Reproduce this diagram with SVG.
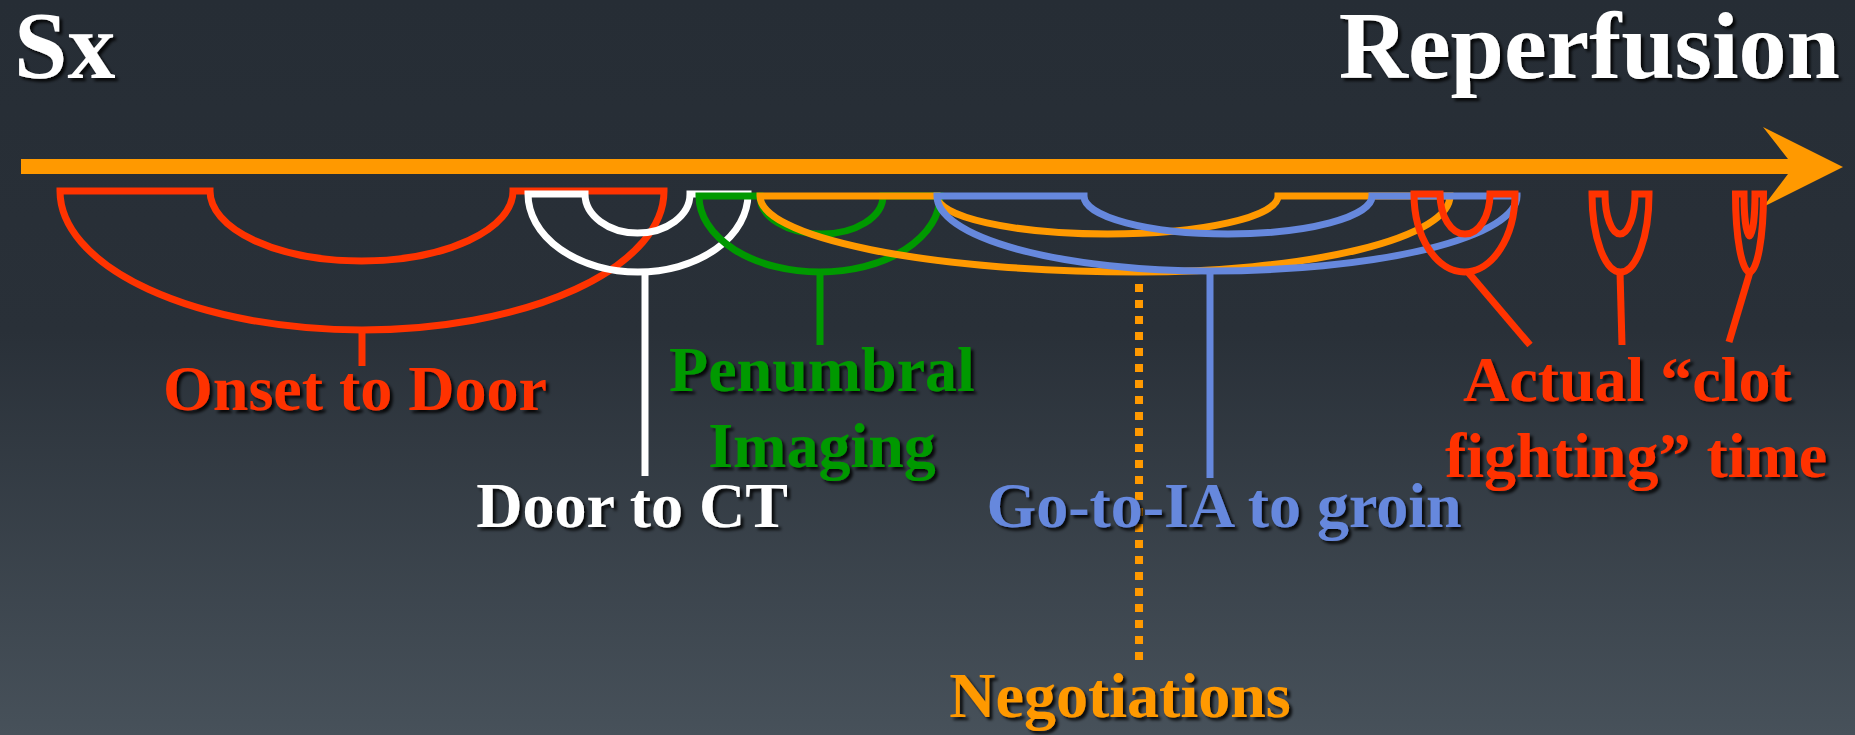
<svg xmlns="http://www.w3.org/2000/svg" width="1855" height="735" viewBox="0 0 1855 735">
  <defs>
    <linearGradient id="bg" x1="0" y1="0" x2="0" y2="1">
      <stop offset="0" stop-color="#262d35"/>
      <stop offset="0.45" stop-color="#293038"/>
      <stop offset="1" stop-color="#47515a"/>
    </linearGradient>
    <filter id="sh" x="-10%" y="-20%" width="130%" height="150%">
      <feDropShadow dx="3" dy="3" stdDeviation="1.5" flood-color="#000" flood-opacity="0.85"/>
    </filter>
  </defs>
  <style>
    .br { fill: none; stroke-width: 7; stroke-linejoin: miter; }
    .lbl { font-family: "Liberation Serif", "Times New Roman", serif; font-weight: bold; font-size: 64px; filter: url(#sh); }
    .ttl { font-family: "Liberation Serif", "Times New Roman", serif; font-weight: bold; font-size: 96px; fill: #ffffff; filter: url(#sh); }
    .red { stroke: #ff3300; }
    .wht { stroke: #ffffff; }
    .grn { stroke: #009900; }
    .org { stroke: #ff9900; }
    .blu { stroke: #6688dd; }
  </style>
  <rect x="0" y="0" width="1855" height="735" fill="url(#bg)"/>

  <g id="title-sx"><text class="ttl" x="14" y="78">Sx</text></g>
  <g id="title-reperfusion"><text class="ttl" x="1840" y="78" text-anchor="end">Reperfusion</text></g>

  <g id="timeline">
    <polygon points="21,159 1788,159 1763,127 1843,167 1763,207 1788,174 21,174" fill="#ff9900"/>
  </g>

  <g id="connectors">
    <!-- Onset to Door -->
    <g id="onset-to-door-bracket">
      <path class="br red" d="M60,191 H210 A151.5,70 0 0 0 513,191 H664 A302,139 0 0 1 60,191 Z"/>
      <line class="br red" x1="362" y1="330" x2="362" y2="366"/>
    </g>
    <!-- Door to CT -->
    <g id="door-to-ct-bracket">
      <path class="br wht" d="M528,194 H585 A52.5,39 0 0 0 690,194 H748 A110,78 0 0 1 528,194 Z"/>
      <line class="br wht" x1="645" y1="272" x2="645" y2="476"/>
    </g>
    <!-- Penumbral Imaging -->
    <g id="penumbral-bracket">
      <path class="br grn" d="M699,196 H760 A61.5,38 0 0 0 883,196 H940 A120,76 0 0 1 820,272 A121,76 0 0 1 699,196 Z"/>
      <line class="br grn" x1="820" y1="272" x2="820" y2="345"/>
    </g>
    <!-- Negotiations -->
    <g id="negotiations-bracket">
      <path class="br org" d="M760,196 H937 A170.5,38 0 0 0 1278,196 H1450 A312,76 0 0 1 1138,272 A378,76 0 0 1 760,196 Z"/>
      <line class="org" x1="1139" y1="284" x2="1139" y2="660" stroke-width="8" stroke-dasharray="8 8"/>
    </g>
    <!-- Go-to-IA to groin -->
    <g id="go-to-ia-bracket">
      <path class="br blu" d="M937,196 H1084 A144,38 0 0 0 1372,196 H1517 A307,75 0 0 1 1210,271 A273,75 0 0 1 937,196 Z"/>
      <line class="br blu" x1="1210" y1="271" x2="1210" y2="478"/>
    </g>
    <!-- Clot fighting brackets -->
    <g id="clot-bracket-1">
      <path class="br red" d="M1414,194 H1440 A25,40 0 0 0 1490,194 H1515 A50.5,78 0 0 1 1414,194 Z"/>
      <line class="br red" x1="1467" y1="271" x2="1530" y2="345"/>
    </g>
    <g id="clot-bracket-2">
      <path class="br red" d="M1592,194 H1605 A15,40 0 0 0 1635,194 H1649 A28.5,78 0 0 1 1592,194 Z"/>
      <line class="br red" x1="1620" y1="272" x2="1622" y2="345"/>
    </g>
    <g id="clot-bracket-3">
      <path class="br red" stroke-width="8" d="M1735.5,194 H1744 A5.5,42 0 0 0 1755,194 H1763.5 A14,78 0 0 1 1735.5,194 Z"/>
      <line class="br red" x1="1750" y1="272" x2="1729" y2="342"/>
    </g>
  </g>

  <g id="label-onset"><text class="lbl" x="355" y="410" text-anchor="middle" fill="#ff3300">Onset to Door</text></g>
  <g id="label-penumbral"><text class="lbl" x="822" y="391" text-anchor="middle" fill="#009900">Penumbral<tspan x="822" y="467">Imaging</tspan></text></g>
  <g id="label-door-ct"><text class="lbl" x="632" y="527" text-anchor="middle" fill="#ffffff">Door to CT</text></g>
  <g id="label-go-to-ia"><text class="lbl" x="1224" y="527" text-anchor="middle" fill="#6688dd">Go-to-IA to groin</text></g>
  <g id="label-clot"><text class="lbl" x="1463" y="401" fill="#ff3300">Actual “clot<tspan x="1445" y="477">fighting” time</tspan></text></g>
  <g id="label-negotiations"><text class="lbl" x="1120" y="717" text-anchor="middle" fill="#ff9900">Negotiations</text></g>
</svg>
